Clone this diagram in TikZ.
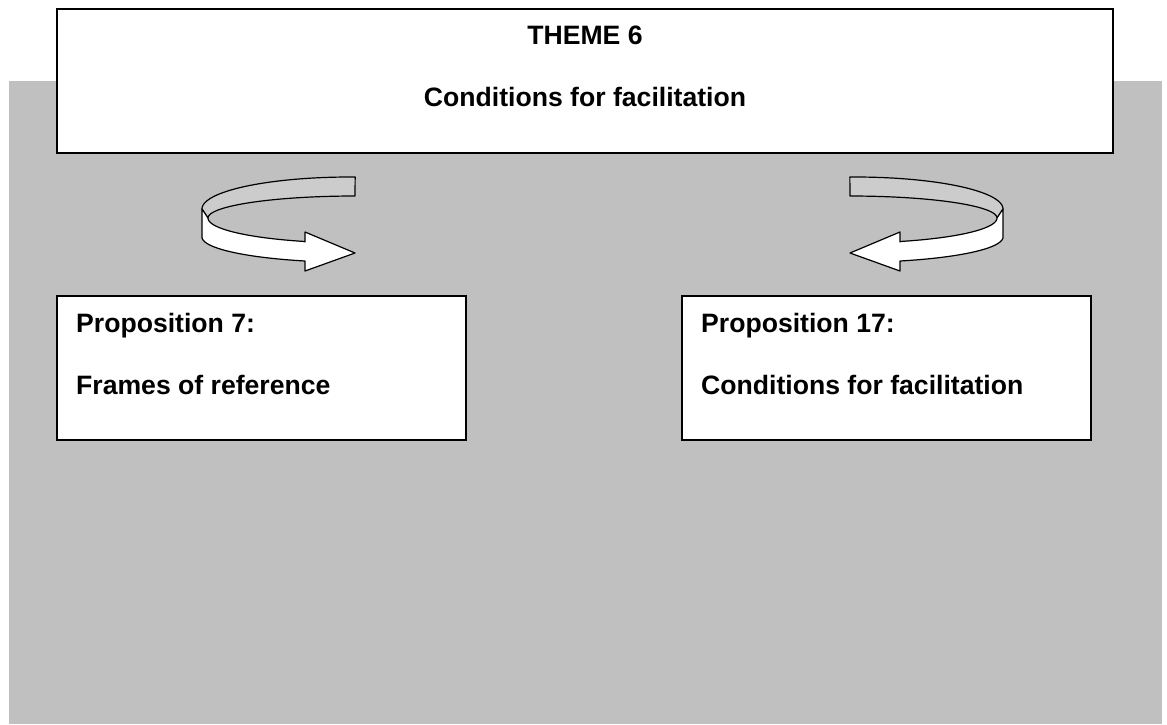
\documentclass[tikz,border=0pt]{standalone}
\usepackage{fontspec}
\setmainfont{Liberation Sans}
\usepackage{tikz}
\usetikzlibrary{positioning, calc}
\usepackage{xcolor}

\definecolor{panelgray}{HTML}{C0C0C0}
\definecolor{bandgray}{HTML}{CCCCCC}

\tikzset{
  framebox/.style={draw=black, fill=white, line width=1.6pt, inner sep=0pt},
  boxtext/.style={inner sep=0pt, font=\fontsize{26.6}{32}\selectfont\bfseries},
  ribbon/.style={draw=black, line width=1.2pt, line join=round},
}

% curved ribbon arrow, drawn in local coordinates
\newcommand{\turnarrow}{%
  \draw[ribbon, fill=bandgray] plot[domain=-88:-180, samples=40] ({350+148*cos(\x)}, {209+32*sin(\x)})
        -- (208,218) -- plot[domain=180:270, samples=40] ({355+147*cos(\x)}, {218+22*sin(\x)}) -- cycle;
  \draw[ribbon, fill=white] (202,209) -- (202,237)
        -- plot[domain=180:109.1, samples=40] ({355+153*cos(\x)}, {237+25.4*sin(\x)})
        -- (305,271) -- (355,253) -- (305,232) -- (305,242)
        -- plot[domain=109.9:180, samples=40] ({355+147*cos(\x)}, {218+25*sin(\x)}) -- cycle;
}

\begin{document}
\begin{tikzpicture}[x=1pt, y=-1pt]
      \useasboundingbox (0,0) rectangle (1167,724);

      \fill[panelgray] (9,81) rectangle (1162,724);

      \node[framebox, minimum width=1056pt, minimum height=144pt] (theme) at (585,81) {};
      \node[boxtext, anchor=base] (themenum) at (585,44) {THEME 6};
      \node[boxtext, anchor=base] (themename) at (585,106.5) {Conditions for facilitation};

      \node[framebox, minimum width=409pt, minimum height=144pt] (prop7) at (261.5,368) {};
      \node[boxtext, anchor=base west] (prop7num) at (76,332.7) {Proposition 7:};
      \node[boxtext, anchor=base west] (prop7name) at (76,394) {Frames of reference};

      \node[framebox, minimum width=409pt, minimum height=144pt] (prop17) at (886.5,368) {};
      \node[boxtext, anchor=base west] (prop17num) at (701,332.7) {Proposition 17:};
      \node[boxtext, anchor=base west] (prop17name) at (701,394) {Conditions for facilitation};

      \turnarrow
      \begin{scope}[shift={(1205,0)}, xscale=-1]
        \turnarrow
      \end{scope}

    \end{tikzpicture}
\end{document}
